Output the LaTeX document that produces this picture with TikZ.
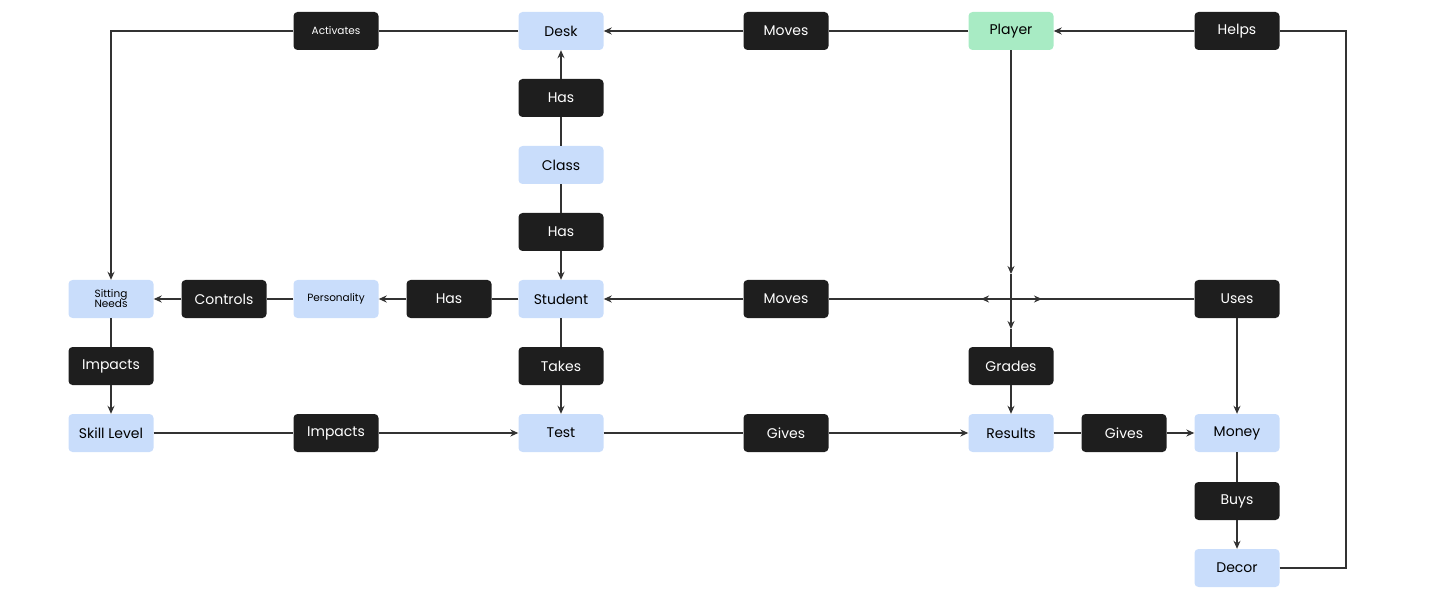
\documentclass[tikz,border=0pt]{standalone}
\usepackage{fontspec}
\setmainfont{Poppins}
\usetikzlibrary{arrows.meta}
\begin{document}
\begin{tikzpicture}[x=1pt,y=-1pt,
  base/.style={rounded corners=4pt,minimum width=85pt,minimum height=38pt,inner sep=1pt,align=center,font=\fontsize{14}{14}\selectfont},
  ent/.style={base,fill=blue!20!cyan!10!white,fill={rgb,255:red,201;green,221;blue,251}},
  pl/.style={base,fill={rgb,255:red,168;green,235;blue,196}},
  rel/.style={base,fill={rgb,255:red,30;green,30;blue,30},text=white},
  sm/.style={font=\fontsize{10.5}{11}\selectfont},
  ln/.style={draw={rgb,255:red,50;green,50;blue,50},line width=1.4pt},
  ar/.style={ln,-{Stealth[length=8pt,width=7pt]}}]
\useasboundingbox (0,0) rectangle (1440,612);
\node[ent] (desk) at (561,31) {Desk};
\node[rel,sm] (act) at (336,31) {Activates};
\node[rel] (mv1) at (786,31) {Moves};
\node[pl] (player) at (1011,31) {Player};
\node[rel] (helps) at (1237,31) {Helps};
\node[rel] (has1) at (561,98) {Has};
\node[ent] (class) at (561,165) {Class};
\node[rel] (has2) at (561,232) {Has};
\node[ent,sm] (sit) at (111,299) {Sitting\\[-1pt]Needs};
\node[rel] (ctrl) at (224,299) {Controls};
\node[ent,sm] (pers) at (336,299) {Personality};
\node[rel] (has3) at (449,299) {Has};
\node[ent] (stud) at (561,299) {Student};
\node[rel] (mv2) at (786,299) {Moves};
\node[rel] (uses) at (1237,299) {Uses};
\node[rel] (imp1) at (111,366) {Impacts};
\node[rel] (takes) at (561,366) {Takes};
\node[rel] (grades) at (1011,366) {Grades};
\node[ent] (skill) at (111,433) {Skill Level};
\node[rel] (imp2) at (336,433) {Impacts};
\node[ent] (test) at (561,433) {Test};
\node[rel] (gv1) at (786,433) {Gives};
\node[ent] (res) at (1011,433) {Results};
\node[rel] (gv2) at (1124,433) {Gives};
\node[ent] (money) at (1237,433) {Money};
\node[rel] (buys) at (1237,501) {Buys};
\node[ent] (decor) at (1237,568) {Decor};
\coordinate (c1) at (111,31);
\coordinate (c2) at (1346,568);
\coordinate (c3) at (1346,31);
\coordinate (v1) at (1011,274);
\coordinate (v2) at (1011,329);
\coordinate (h1) at (981,299);
\coordinate (h2) at (1042,299);
\draw[ln] (desk) -- (act);
\draw[ar] (act) -- (c1) -- (sit);
\draw[ln] (player) -- (mv1); \draw[ar] (mv1) -- (desk);
\draw[ln] (decor) -- (c2) -- (c3) -- (helps); \draw[ar] (helps) -- (player);
\draw[ln] (class) -- (has1); \draw[ar] (has1) -- (desk);
\draw[ln] (class) -- (has2); \draw[ar] (has2) -- (stud);
\draw[ln] (stud) -- (has3); \draw[ar] (has3) -- (pers);
\draw[ln] (pers) -- (ctrl); \draw[ar] (ctrl) -- (sit);
\draw[ln] (sit) -- (imp1); \draw[ar] (imp1) -- (skill);
\draw[ln] (skill) -- (imp2); \draw[ar] (imp2) -- (test);
\draw[ln] (stud) -- (takes); \draw[ar] (takes) -- (test);
\draw[ln] (test) -- (gv1); \draw[ar] (gv1) -- (res);
\draw[ln] (res) -- (gv2); \draw[ar] (gv2) -- (money);
\draw[ar] (uses) -- (money);
\draw[ln] (money) -- (buys); \draw[ar] (buys) -- (decor);
\draw[ar] (player) -- (v1); \draw[ar] (v1) -- (v2); \draw[ln] (v2) -- (grades);
\draw[ar] (grades) -- (res);
\draw[ln] (uses) -- (h2); \draw[ar] (h1) -- (h2); \draw[ar] (h2) -- (h1);
\draw[ln] (h1) -- (mv2); \draw[ar] (mv2) -- (stud);
\end{tikzpicture}
\end{document}
